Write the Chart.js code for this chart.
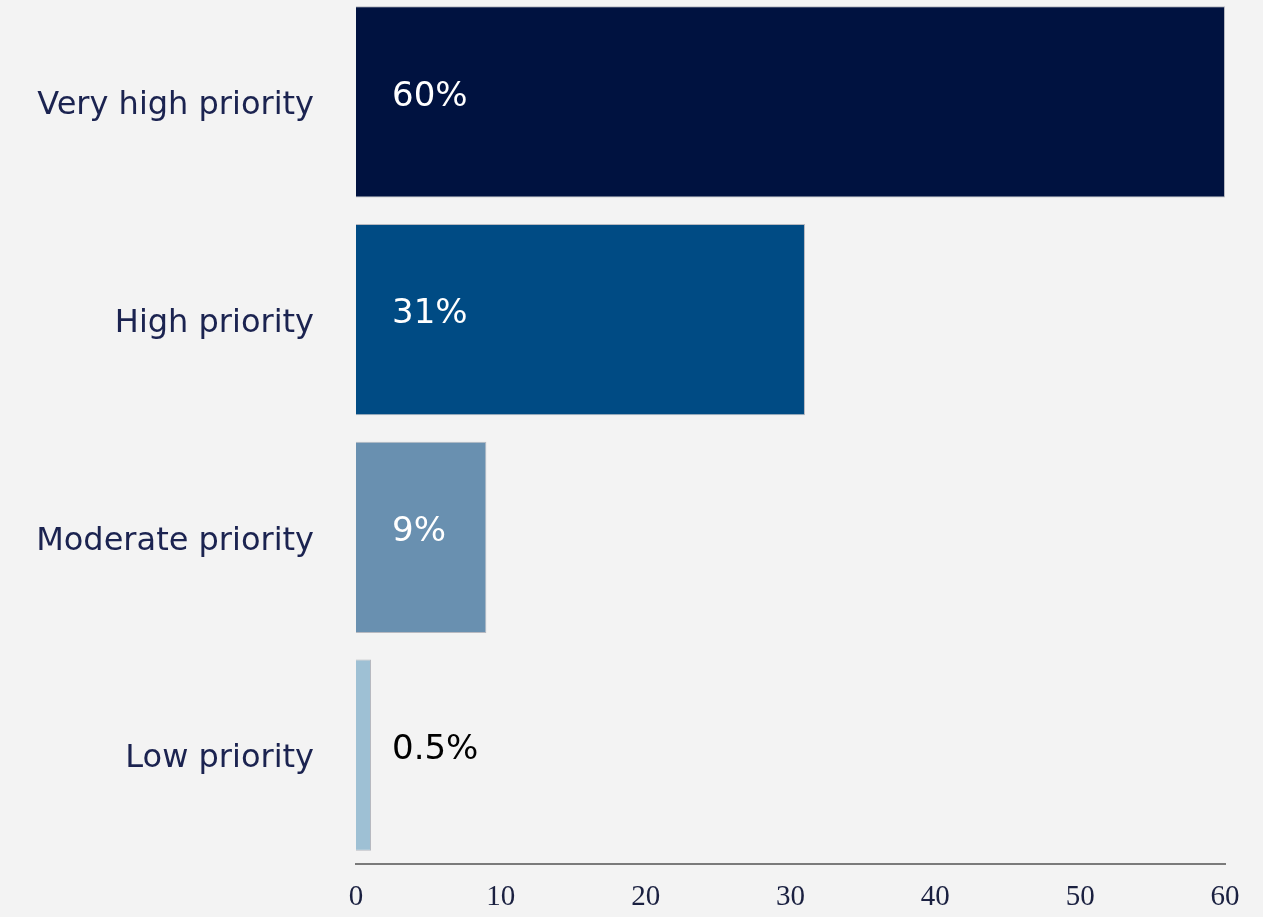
<!DOCTYPE html>
<html>
<head>
<meta charset="utf-8">
<script src="https://cdn.jsdelivr.net/npm/chart.js@4.4.1/dist/chart.umd.min.js"></script>
<style>
  html, body { margin: 0; padding: 0; background: #f3f3f3; overflow: hidden; }
  #wrap { position: relative; width: 1263px; height: 917px; overflow: hidden; }
  #wrap canvas { position: absolute; left: 0; top: -7px; }
</style>
</head>
<body>
<div id="wrap"><canvas id="c" width="1263" height="924"></canvas></div>
<script>
// Survey answers: share of respondents per priority level (%)
const categories = ['Very high priority', 'High priority', 'Moderate priority', 'Low priority'];
const shares = [60, 31, 9, 0.5];
const valueLabels = ['60%', '31%', '9%', '0.5%'];
const barColors = ['#001240', '#004b84', '#6990b0', '#9ec0d4'];
const labelColors = ['#ffffff', '#ffffff', '#ffffff', '#000000'];
const xTicks = [0, 10, 20, 30, 40, 50, 60];

// Writes the percentage inside each bar, near its left end
const valueLabelPlugin = {
  id: 'valueLabels',
  afterDatasetsDraw(chart) {
    const { ctx, chartArea } = chart;
    const meta = chart.getDatasetMeta(0);
    ctx.save();
    ctx.font = '34px "DejaVu Sans", sans-serif';
    ctx.textAlign = 'left';
    ctx.textBaseline = 'middle';
    meta.data.forEach((bar, i) => {
      ctx.fillStyle = labelColors[i];
      ctx.fillText(valueLabels[i], chartArea.left + 36, bar.y - 5);
    });
    ctx.restore();
  }
};

new Chart(document.getElementById('c'), {
  type: 'bar',
  data: {
    labels: categories,
    datasets: [{
      data: shares,
      backgroundColor: barColors,
      borderColor: 'rgba(110,115,130,0.45)',
      borderWidth: 1,
      barPercentage: 0.878,
      categoryPercentage: 1,
      minBarLength: 15
    }]
  },
  options: {
    indexAxis: 'y',
    responsive: false,
    animation: false,
    layout: { padding: { left: 0, right: 38, top: 0, bottom: 0 } },
    plugins: { legend: { display: false }, tooltip: { enabled: false } },
    scales: {
      x: {
        min: 0,
        max: 60,
        afterBuildTicks(scale) { scale.ticks = xTicks.map(v => ({ value: v })); },
        afterFit(scale) { scale.height = 53; scale.paddingLeft = 0; scale.paddingRight = 0; },
        grid: { display: false, drawTicks: false },
        border: { display: true, color: '#7a7a7a', width: 2 },
        ticks: {
          padding: 16,
          color: '#1a2040',
          font: { family: '"Liberation Serif", "DejaVu Serif", serif', size: 29 }
        }
      },
      y: {
        afterFit(scale) { scale.width = 356; scale.paddingTop = 0; scale.paddingBottom = 0; },
        grid: { display: false, drawTicks: false },
        border: { display: false },
        ticks: {
          padding: 42,
          labelOffset: 4,
          color: '#1b2350',
          font: { family: '"DejaVu Sans", sans-serif', size: 32 }
        }
      }
    }
  },
  plugins: [valueLabelPlugin]
});
</script>
</body>
</html>
